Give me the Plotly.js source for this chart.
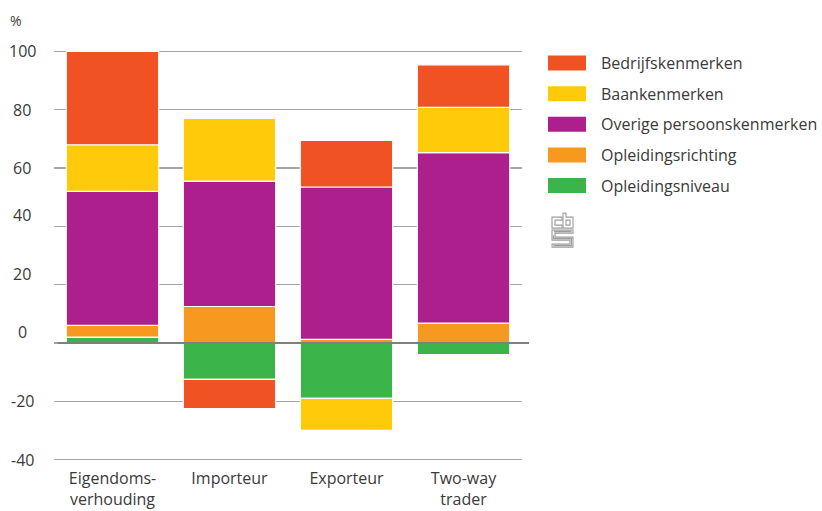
<!DOCTYPE html>
<html>
<head>
<meta charset="utf-8">
<script src="https://cdn.plot.ly/plotly-3.0.1.min.js"></script>
<style>
  html, body { margin: 0; padding: 0; background: #fff; }
  #chart { width: 822px; height: 511px; }
</style>
</head>
<body>
<div id="chart"></div>
<script>
// Categories along the x axis
const categories = ['Eigendoms-<br>verhouding', 'Importeur', 'Exporteur', 'Two-way<br>trader'];

// Contributions per group of characteristics (%)
const opleidingsniveau   = [2, -12.5, -19, -4];
const opleidingsrichting = [4, 12.5, 1.2, 6.8];
const overigePersoons    = [46, 43, 52.3, 58.5];
const baankenmerken      = [16, 21.5, -11, 15.5];
const bedrijfskenmerken  = [32, -10, 16, 14.6];

// Series names, bottom of the stack first
const seriesNames = ['Opleidingsniveau', 'Opleidingsrichting', 'Overige persoonskenmerken', 'Baankenmerken', 'Bedrijfskenmerken'];
const seriesValues = [opleidingsniveau, opleidingsrichting, overigePersoons, baankenmerken, bedrijfskenmerken];
const seriesColors = ['#3bb54a', '#f7991f', '#ad1f8d', '#ffca0a', '#f05224'];

// Y axis ticks
const yTicks = [-40, -20, 0, 20, 40, 60, 80, 100];

const W = 822, H = 511;
const M = { l: 54, r: 300, t: 49.9, b: 50.2 };
const plotW = W - M.l - M.r;
const plotH = H - M.t - M.b;
const px2x = px => (px - M.l) / plotW;
const py2y = py => (H - M.b - py) / plotH;

const textColor = '#3a3a3a';
const fontFamily = '"Open Sans", "Noto Sans", sans-serif';

const traces = seriesNames.map((name, i) => ({
  type: 'bar',
  name: name,
  x: categories,
  y: seriesValues[i],
  width: 0.79,
  marker: { color: seriesColors[i], line: { color: '#ffffff', width: 1.2 } },
  hoverinfo: 'x+y+name',
  showlegend: false
}));

const annotations = [];
const shapes = [];

// y tick labels (the lower positive labels sit above their grid line)
yTicks.forEach(v => {
  annotations.push({
    xref: 'paper', yref: 'y', x: px2x(22), y: v,
    xanchor: 'center', yanchor: 'middle',
    yshift: (v >= 0 && v <= 40) ? 11 : 0,
    text: String(v), showarrow: false,
    font: { family: fontFamily, size: 16, color: textColor }
  });
});

// unit label
annotations.push({
  xref: 'paper', yref: 'paper', x: px2x(8), y: py2y(20),
  xanchor: 'left', yanchor: 'middle', text: '%', showarrow: false,
  font: { family: fontFamily, size: 14, color: textColor }
});

// zero line, running a little past the plot area on the right
shapes.push({
  type: 'line', xref: 'paper', yref: 'y',
  x0: px2x(58), x1: px2x(529), y0: 0, y1: 0,
  line: { color: '#7f7f7f', width: 2 }, layer: 'above'
});

// legend, top entry = top of the stack
const legendOrder = seriesNames.map((n, i) => i).reverse();
legendOrder.forEach((idx, row) => {
  const cy = 63 + row * 30.6;
  shapes.push({
    type: 'rect', xref: 'paper', yref: 'paper',
    x0: px2x(548), x1: px2x(586), y0: py2y(cy - 7.5), y1: py2y(cy + 7.5),
    fillcolor: seriesColors[idx], line: { width: 0 }
  });
  annotations.push({
    xref: 'paper', yref: 'paper', x: px2x(599), y: py2y(cy),
    xanchor: 'left', yanchor: 'middle', text: seriesNames[idx], showarrow: false,
    font: { family: fontFamily, size: 16, color: textColor }
  });
});

// CBS logo mark
const logoSvg = '<svg xmlns="http://www.w3.org/2000/svg" viewBox="-1 -1 23 36" width="23" height="36">' +
  '<g fill="none" stroke="#9c9c9c" stroke-width="1.1">' +
  '<path d="M10,4 H0 V15 H10 V12 H3 V7 H10 Z"/>' +
  '<path d="M11,0 H14 V4 H21 V15 H11 Z M14,7 H18 V12 H14 Z"/>' +
  '<path d="M0,17 H21 V20 H3 V24 H21 V34 H0 V31 H18 V27 H0 Z"/>' +
  '<path d="M2,18.5 H19.5 M1.5,22 V25.5 H19.5 V32.5 H1.5"/>' +
  '</g></svg>';

const layout = {
  width: W, height: H,
  margin: M,
  paper_bgcolor: '#ffffff', plot_bgcolor: '#ffffff',
  barmode: 'relative',
  showlegend: false,
  font: { family: fontFamily, size: 16, color: textColor },
  xaxis: {
    type: 'category',
    range: [-0.5, 3.5],
    showgrid: false, zeroline: false, showline: false,
    ticks: '', ticklabelstandoff: 6,
    tickfont: { family: fontFamily, size: 16, color: textColor },
    fixedrange: true
  },
  yaxis: {
    range: [-40.5, 100.5],
    tickvals: yTicks,
    showticklabels: false,
    showgrid: true, gridcolor: '#a3a3a3', gridwidth: 1.3,
    zeroline: false, showline: false, ticks: '',
    fixedrange: true
  },
  shapes: shapes,
  annotations: annotations,
  images: [{
    source: 'data:image/svg+xml;charset=utf-8,' + encodeURIComponent(logoSvg),
    xref: 'paper', yref: 'paper',
    x: px2x(551), y: py2y(212),
    sizex: 23 / plotW, sizey: 36 / plotH,
    xanchor: 'left', yanchor: 'top', sizing: 'stretch', layer: 'above'
  }]
};

Plotly.newPlot('chart', traces, layout, { displayModeBar: false, staticPlot: true });
</script>
</body>
</html>
